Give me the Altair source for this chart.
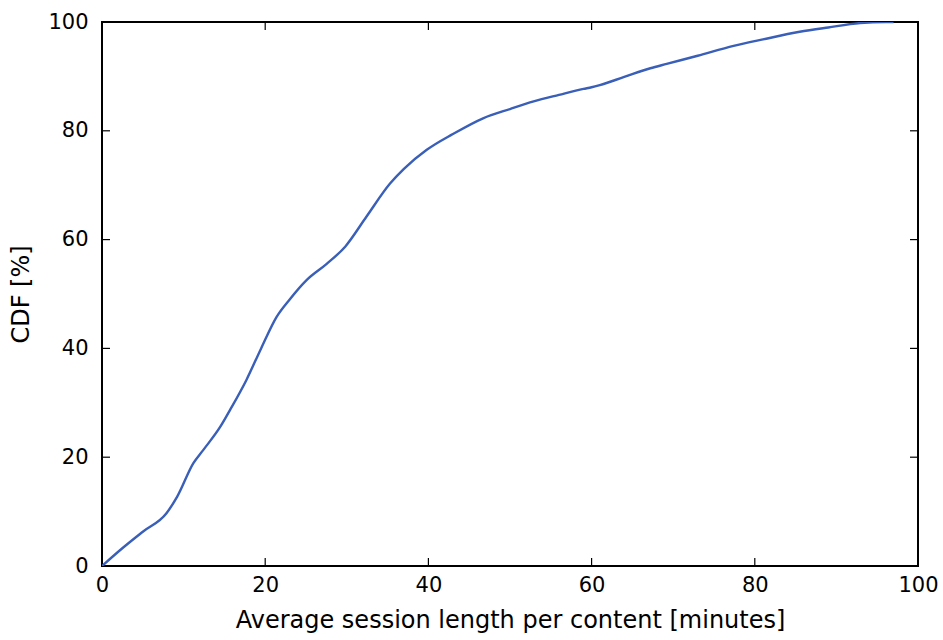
import altair as alt
import pandas as pd

# CDF of average session length per content
minutes = [0, 2.6, 5.0, 7.9, 9.2, 11.2, 12.4, 14.5, 15.7, 17.7, 19.5, 21.4, 23.0,
           25.1, 27.5, 29.8, 32.4, 35.3, 37.0, 39.8, 43.0, 46.7, 50.0, 52.9,
           56.0, 59.0, 60.0, 61.0, 64.0, 67.2, 69.2, 73.0, 77.4, 81.0, 85.5,
           89.0, 92.9, 96.0, 97.0]
cdf_pct = [0, 3.4, 6.3, 9.7, 12.7, 18.9, 21.3, 25.6, 28.7, 34.2, 40.0, 45.8, 49.0,
           52.6, 55.5, 58.7, 64.2, 70.3, 73.0, 76.5, 79.4, 82.3, 84.0, 85.4,
           86.6, 87.7, 88.0, 88.4, 89.9, 91.5, 92.3, 93.8, 95.6, 96.8, 98.2,
           99.0, 99.8, 100.0, 100.0]
tick_values = [0, 20, 40, 60, 80, 100]

W, H = 816, 544
TICK_LEN = 8
FONT = "DejaVu Sans"

curve = pd.DataFrame({"minutes": minutes, "cdf": cdf_pct})
ticks = pd.DataFrame({"v": tick_values})

x_scale = alt.Scale(domain=[0, 100], nice=False, zero=False)
y_scale = alt.Scale(domain=[0, 100], nice=False, zero=False)

line = alt.Chart(curve).mark_line(color="#3a5fb8", strokeWidth=2.4, clip=True,
                                  interpolate="monotone").encode(
    x=alt.X("minutes:Q", scale=x_scale,
            axis=alt.Axis(values=tick_values, ticks=False, domain=False, grid=False,
                          labelFont=FONT, labelFontSize=21, labelColor="black",
                          labelPadding=8, labelFlush=False,
                          title="Average session length per content [minutes]",
                          titleFont=FONT, titleFontSize=24, titleFontWeight="normal",
                          titleColor="black", titlePadding=13)),
    y=alt.Y("cdf:Q", scale=y_scale,
            axis=alt.Axis(values=tick_values, ticks=False, domain=False, grid=False,
                          labelFont=FONT, labelFontSize=21, labelColor="black",
                          labelPadding=14, labelFlush=False,
                          title="CDF [%]",
                          titleFont=FONT, titleFontSize=24, titleFontWeight="normal",
                          titleColor="black", titlePadding=14)),
)

tick_style = dict(color="black", strokeWidth=1.2)

# inward-pointing ticks on all four sides
bottom_ticks = alt.Chart(ticks).mark_rule(**tick_style).encode(
    x=alt.X("v:Q", scale=x_scale), y=alt.value(H), y2=alt.value(H - TICK_LEN))
top_ticks = alt.Chart(ticks).mark_rule(**tick_style).encode(
    x=alt.X("v:Q", scale=x_scale), y=alt.value(0), y2=alt.value(TICK_LEN))
left_ticks = alt.Chart(ticks).mark_rule(**tick_style).encode(
    y=alt.Y("v:Q", scale=y_scale), x=alt.value(0), x2=alt.value(TICK_LEN))
right_ticks = alt.Chart(ticks).mark_rule(**tick_style).encode(
    y=alt.Y("v:Q", scale=y_scale), x=alt.value(W), x2=alt.value(W - TICK_LEN))

chart = alt.layer(bottom_ticks, top_ticks, left_ticks, right_ticks, line).properties(
    width=W, height=H,
    autosize=alt.AutoSizeParams(type="none"),
    padding={"left": 102, "top": 22, "right": 25, "bottom": 74},
    background="white",
).configure_view(stroke="black", strokeWidth=2)

chart.save("out.html", embed_options={"renderer": "svg", "actions": False})
